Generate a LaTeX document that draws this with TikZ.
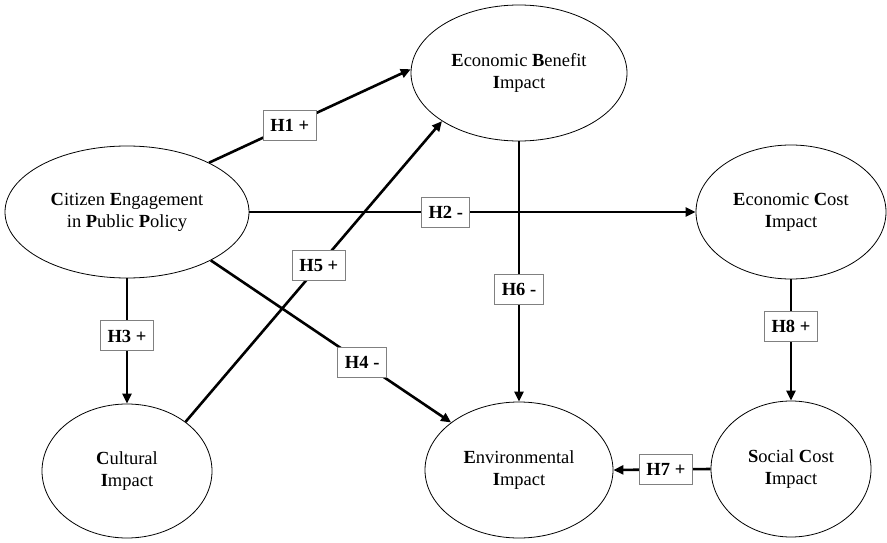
\documentclass[tikz,border=0pt]{standalone}
\usepackage{fontspec}
\setmainfont{Liberation Serif}
\usetikzlibrary{shapes.geometric,arrows.meta}
\begin{document}
\begin{tikzpicture}[x=1pt,y=-1pt,
  construct/.style={draw,ellipse,line width=0.8pt,inner sep=0pt,font=\fontsize{18.5}{22}\selectfont,align=center},
  link/.style={line width=2.6pt,-{Triangle[length=10pt,width=9pt]}},
  hlabel/.style={draw=gray,fill=white,line width=1pt,font=\fontsize{18.5}{22}\selectfont\bfseries,minimum height=30pt,inner xsep=7pt,inner ysep=2pt}]
\useasboundingbox (0,0) rectangle (887,543);
\node[construct,minimum width=244pt,minimum height=132pt] (cit) at (127,212) {\textbf{C}itizen \textbf{E}ngagement\\in \textbf{P}ublic \textbf{P}olicy};
\node[construct,minimum width=216pt,minimum height=136pt] (eb) at (519,73) {\textbf{E}conomic \textbf{B}enefit\\\textbf{I}mpact};
\node[construct,minimum width=190pt,minimum height=134pt] (ec) at (791,212) {\textbf{E}conomic \textbf{C}ost\\\textbf{I}mpact};
\node[construct,minimum width=170pt,minimum height=134pt] (cul) at (127,471) {\textbf{C}ultural\\\textbf{I}mpact};
\node[construct,minimum width=188pt,minimum height=136pt] (env) at (519,470) {\textbf{E}nvironmental\\\textbf{I}mpact};
\node[construct,minimum width=160pt,minimum height=136pt] (sc) at (791,469) {\textbf{S}ocial \textbf{C}ost\\\textbf{I}mpact};
\draw[link] (cit.31) -- node[hlabel,pos=0.40] (h1) {H1 +} (eb.178);
\draw[link] (cit.east) -- node[hlabel,pos=0.44] (h2) {H2 -} (ec.west);
\draw[link] (cit.south) -- node[hlabel,pos=0.46] (h3) {H3 +} (cul.north);
\draw[link] (cit.330) -- node[hlabel,pos=0.63] (h4) {H4 -} (env.145);
\draw[link] (cul.40) -- node[hlabel,pos=0.52] (h5) {H5 +} (eb.212);
\draw[link] (eb.south) -- node[hlabel,pos=0.57] (h6) {H6 -} (env.north);
\draw[link] (sc.west) -- node[hlabel,pos=0.46] (h7) {H7 +} (env.east);
\draw[link] (ec.south) -- node[hlabel,pos=0.39] (h8) {H8 +} (sc.north);
\end{tikzpicture}
\end{document}
